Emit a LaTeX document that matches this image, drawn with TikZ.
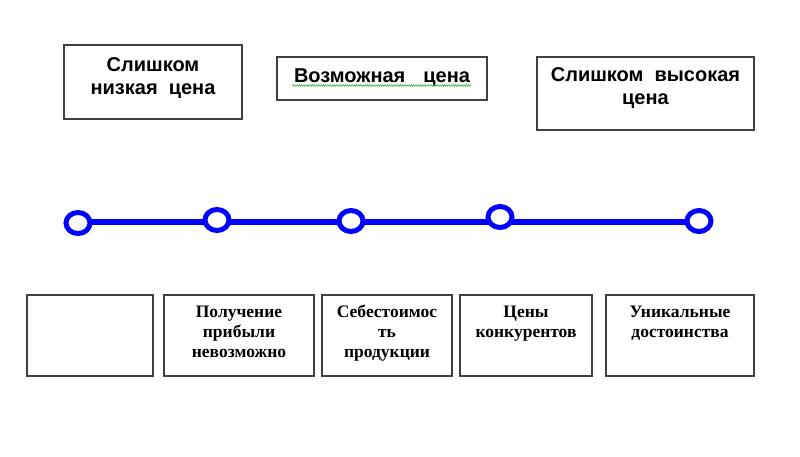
\documentclass[tikz,border=0pt]{standalone}
\usepackage{fontspec}
\newfontfamily\sansb{Liberation Sans}
\newfontfamily\serifb{Liberation Serif}
\usetikzlibrary{shapes.geometric,decorations.pathmorphing}
\begin{document}
\begin{tikzpicture}[x=1pt,y=-1pt,
  box/.style={draw=black!75, line width=1.1pt, fill=white, inner sep=0pt, minimum height=#1},
  box/.default=81pt,
  toptext/.style={font=\sansb\bfseries\fontsize{20}{23}\selectfont, align=center, anchor=base, inner sep=0pt},
  bottext/.style={font=\serifb\bfseries\fontsize{17.5}{20}\selectfont, align=center, anchor=base, inner sep=0pt},
  dot/.style={ellipse, draw=blue, line width=5pt, fill=white, minimum width=24pt, minimum height=21pt, inner sep=0pt},
  blueline/.style={draw=blue, line width=5.5pt},
  spell/.style={draw=green!60!black!70!white, line width=0.6pt, decorate, decoration={snake, amplitude=0.9pt, segment length=2.2pt}}
]
\useasboundingbox (0,0) rectangle (800,456);
\fill[white] (0,0) rectangle (800,456);

% top boxes
\node[box=74pt, minimum width=178pt] (top1) at (153,82) {};
\node[box=43pt, minimum width=210pt] (top2) at (382,78.5) {};
\node[box=73pt, minimum width=217pt] (top3) at (645.5,93.5) {};
\node[toptext] (t1) at (153,94) {Слишком\\низкая\ \ цена};
\node[toptext] (t2) at (382,82) {Возможная\hspace{0.9em}цена};
\node[toptext] (t3) at (645.5,104) {Слишком\ \ высокая\\цена};
\coordinate (spL) at (292,85.5);
\coordinate (spR) at (471,85.5);
\draw[spell] (spL) -- (spR);

% timeline
\coordinate (lineL) at (78,222);
\coordinate (lineR) at (699,222);
\draw[blueline] (lineL) -- (lineR);
\node[dot] (d1) at (78,223) {};
\node[dot] (d2) at (217,220) {};
\node[dot] (d3) at (351,221) {};
\node[dot] (d4) at (500,217) {};
\node[dot] (d5) at (699,221) {};

% bottom boxes
\node[box, minimum width=126pt] (b1) at (90,335.5) {};
\node[box, minimum width=150pt] (b2) at (239,335.5) {};
\node[box, minimum width=130pt] (b3) at (387,335.5) {};
\node[box, minimum width=132pt] (b4) at (526,335.5) {};
\node[box, minimum width=148pt] (b5) at (680,335.5) {};
\node[bottext] (l2) at (239,357) {Получение\\прибыли\\невозможно};
\node[bottext] (l3) at (387,357) {Себестоимос\\ть\\продукции};
\node[bottext] (l4) at (526,337) {Цены\\конкурентов};
\node[bottext] (l5) at (680,337) {Уникальные\\достоинства};
\end{tikzpicture}
\end{document}
